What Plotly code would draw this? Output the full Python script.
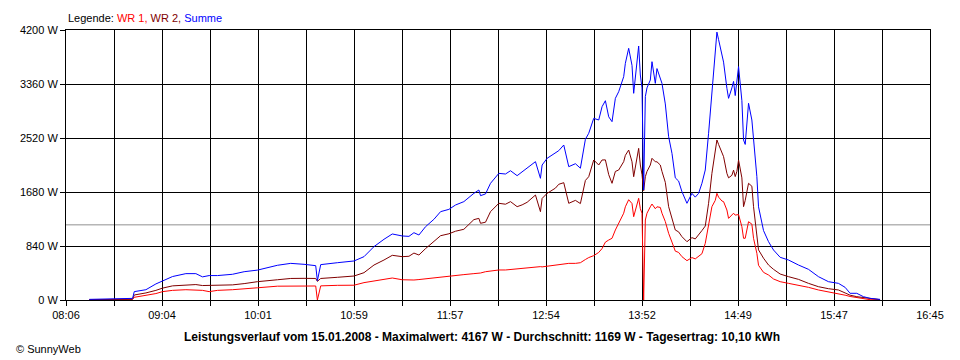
import plotly.graph_objects as go

# ---- data ----
times = ["08:20","08:27","08:36","08:46","08:47","08:54","09:00","09:04","09:10","09:18",
         "09:24","09:28","09:32","09:37","09:46","09:53","10:01","10:13","10:21","10:29",
         "10:36","10:37","10:39","10:49","10:59","11:05","11:11","11:17","11:22","11:28",
         "11:32","11:35","11:38","11:42","11:47","11:51","11:56","12:00","12:05","12:11",
         "12:14","12:15","12:18","12:21","12:26","12:30","12:33","12:37","12:40","12:43",
         "12:48","12:51","12:52","12:55","13:00","13:02","13:05","13:08","13:12","13:15",
         "13:18","13:20","13:23","13:26","13:28","13:30","13:32","13:34","13:36","13:38",
         "13:41","13:42","13:44","13:46","13:47","13:50","13:51","13:52","13:53","13:54",
         "13:55","13:57","13:58","14:00","14:01","14:03","14:04","14:06","14:08","14:10",
         "14:12","14:14","14:16","14:19","14:22","14:24","14:26","14:28","14:30","14:32",
         "14:34","14:36","14:37","14:38","14:40","14:41","14:43","14:44","14:46","14:47",
         "14:48","14:49","14:50","14:52","14:53","14:54","14:56","14:58","14:59","15:01",
         "15:02","15:05","15:08","15:11","15:15","15:20","15:26","15:32","15:38","15:44",
         "15:50","15:54","15:57","16:01","16:05","16:09","16:15"]

summe = [10,15,20,25,130,160,250,295,365,410,
         410,360,380,380,400,440,465,540,570,555,
         534,300,550,580,607,674,830,944,1027,996,
         990,1047,1011,1141,1255,1374,1410,1478,1530,1659,
         1711,1623,1650,1815,1970,1960,2011,1934,1990,2050,
         2152,1893,2100,2204,2281,2323,2411,2074,2120,2050,
         2500,2593,2826,2800,3007,3100,2850,2774,3137,3240,
         3474,3681,3915,3650,3215,3951,3500,3300,1711,3163,
         3300,3422,3707,3370,3600,3450,3370,3050,2541,2281,
         1900,1850,1685,1504,1659,1600,1659,1815,2022,2593,
         3267,3889,4167,4050,3811,3700,3293,3137,3300,3400,
         3180,3380,3630,3100,2489,2420,3060,2800,2489,1918,
         1450,1080,907,778,664,622,544,477,363,285,
         259,197,104,104,52,26,10]

wr2 = [5,7,10,12,78,110,150,185,220,235,
       240,225,225,230,235,255,285,315,335,337,
       335,290,335,353,373,425,544,622,695,674,
       680,730,700,800,920,1000,1030,1070,1100,1250,
       1270,1193,1210,1374,1504,1490,1530,1452,1480,1520,
       1633,1374,1580,1659,1740,1800,1825,1504,1550,1500,
       1860,1918,2178,2100,2178,2180,1950,1815,2000,2022,
       2152,2250,2333,2150,1918,2359,2100,1950,1700,1918,
       2000,2100,2204,2150,2150,2100,2000,1830,1452,1250,
       1089,1060,985,907,970,950,1010,1080,1150,1504,
       1970,2333,2489,2420,2307,2230,1970,1900,1940,2020,
       1920,2000,2178,1900,1452,1550,1815,1770,1452,985,
       780,650,544,477,404,363,321,259,207,176,
       156,110,75,52,40,20,5]

wr1 = [5,8,10,12,42,70,100,130,150,160,
       160,150,130,150,160,170,190,215,220,223,
       218,0,220,228,230,270,295,320,342,315,
       311,311,318,330,350,363,375,384,395,410,
       415,420,440,450,467,467,475,485,500,503,
       510,519,515,525,540,550,560,570,570,580,
       630,660,690,740,800,900,933,960,1089,1193,
       1350,1450,1560,1500,1296,1582,1420,1350,0,1244,
       1350,1450,1493,1420,1450,1440,1350,1220,1037,900,
       760,740,674,612,660,640,680,720,881,1141,
       1452,1550,1659,1600,1540,1530,1400,1270,1320,1350,
       1320,1330,1330,1140,960,960,1218,1180,960,726,
       540,430,389,327,285,259,233,197,156,130,
       104,75,55,42,20,5,3]

x_tick_labels = ["08:06","09:04","10:01","10:59","11:57","12:54","13:52","14:49","15:47","16:45"]
y_tick_values = [0, 840, 1680, 2520, 3360, 4200]
average_w = 1169

title_text = ("Leistungsverlauf vom 15.01.2008 - Maximalwert: 4167 W - "
              "Durchschnitt: 1169 W - Tagesertrag: 10,10 kWh")


def to_min(s):
    h, m = s.split(":")
    return int(h) * 60 + int(m)


x = [to_min(t) for t in times]
x0 = to_min(x_tick_labels[0])
x1 = to_min(x_tick_labels[-1])
n = len(x_tick_labels) - 1
major = [x0 + i * (x1 - x0) / n for i in range(n + 1)]
minor = [x0 + (i + 0.5) * (x1 - x0) / n for i in range(n)]

FONT = "Liberation Sans, Arial, sans-serif"

fig = go.Figure()
fig.add_trace(go.Scatter(x=x, y=wr1, mode="lines", line=dict(color="#FF0000", width=1), name="WR 1"))
fig.add_trace(go.Scatter(x=x, y=wr2, mode="lines", line=dict(color="#800000", width=1), name="WR 2"))
fig.add_trace(go.Scatter(x=x, y=summe, mode="lines", line=dict(color="#0000FF", width=1), name="Summe"))

fig.add_shape(type="line", xref="paper", x0=0, x1=1, yref="y", y0=average_w, y1=average_w,
              line=dict(color="#909090", width=1), layer="below")

# page body has an 8px margin; size the figure so the plot area sits at 60..930 x 30..300
fig.update_layout(
    width=952, height=352,
    margin=dict(l=52, r=30, t=22, b=60),
    paper_bgcolor="white", plot_bgcolor="white",
    showlegend=False, hovermode=False,
    font=dict(family=FONT, size=11, color="black"),
)

fig.update_xaxes(
    range=[x0, x1], tickmode="array", tickvals=major, ticktext=x_tick_labels,
    showgrid=True, gridcolor="black", gridwidth=1,
    ticks="outside", ticklen=5, tickcolor="black", tickwidth=1,
    showline=True, linecolor="black", linewidth=1, mirror=True,
    zeroline=False,
    minor=dict(tickmode="array", tickvals=minor, ticks="outside", ticklen=5,
               tickcolor="black", showgrid=True, gridcolor="black", gridwidth=1),
    tickfont=dict(family=FONT, size=11, color="black"),
)
fig.update_yaxes(
    range=[0, 4200], tickmode="array", tickvals=y_tick_values,
    ticktext=[f"{v} W" for v in y_tick_values],
    showgrid=True, gridcolor="black", gridwidth=1,
    ticks="outside", ticklen=5, tickcolor="black", tickwidth=1,
    showline=True, linecolor="black", linewidth=1, mirror=True,
    zeroline=False,
    tickfont=dict(family=FONT, size=11, color="black"),
)

fig.add_annotation(
    xref="paper", yref="paper", x=0, y=1, xanchor="left", yanchor="bottom", yshift=4,
    showarrow=False, font=dict(family=FONT, size=11, color="black"),
    text=("Legende: <span style='color:#FF0000'>WR 1, </span>"
          "<span style='color:#800000'>WR 2, </span>"
          "<span style='color:#0000FF'>Summe</span>"),
)
fig.add_annotation(
    xref="paper", yref="paper", x=(479 - 60) / 870, y=(300 - 337) / 270,
    xanchor="center", yanchor="middle", showarrow=False,
    font=dict(family=FONT, size=12, color="black"), text=f"<b>{title_text}</b>",
)
fig.add_annotation(
    xref="paper", yref="paper", x=(8 - 60) / 870, y=(300 - 349) / 270,
    xanchor="left", yanchor="middle", showarrow=False,
    font=dict(family=FONT, size=11, color="black"), text="© SunnyWeb",
)

fig.write_html("out.html")
